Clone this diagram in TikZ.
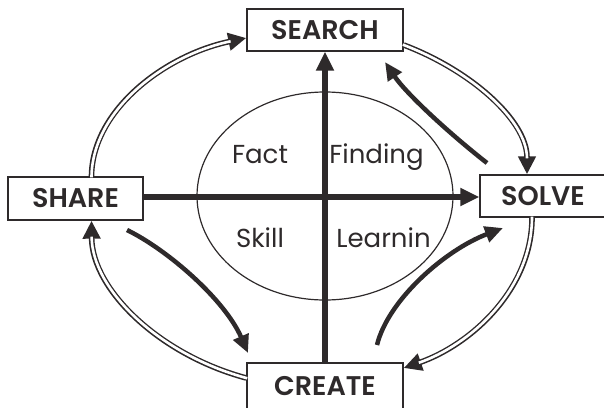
\documentclass[tikz,border=0pt]{standalone}
\usepackage{fontspec}
\setmainfont{Poppins}
\newfontfamily\boxfont{Poppins SemiBold}
\usetikzlibrary{arrows.meta,calc}
\definecolor{ink}{HTML}{2E2A2B}
\tikzset{
  stagebox/.style={draw=ink, line width=1.4pt, fill=white, inner sep=0pt, text=ink, font=\boxfont\fontsize{27}{27}\selectfont},
  quad/.style={text=ink, anchor=base, inner sep=0pt, font=\fontsize{26}{26}\selectfont},
  axis/.style={draw=ink, line width=6pt, -{Triangle[length=19pt,width=17pt]}},
  inner/.style={draw=ink, line width=4.5pt, -{Triangle[length=18pt,width=16pt]}},
  outerblack/.style={draw=ink, line width=5.6pt, -{Triangle[length=18pt,width=17pt]}},
  outerwhite/.style={draw=white, line width=2.6pt, shorten >=16pt, shorten <=-1pt},
}
\begin{document}
\begin{tikzpicture}[x=1pt,y=-1pt]
\useasboundingbox (0,0) rectangle (604,407);
% ellipse
\draw[ink, line width=1.2pt] (325,196) ellipse [x radius=128, y radius=104];
% boxes
\node[stagebox, minimum width=156pt, minimum height=42pt] (search) at (325,30) {SEARCH};
\node[stagebox, minimum width=126pt, minimum height=42pt] (solve) at (543,196) {SOLVE};
\node[stagebox, minimum width=135pt, minimum height=43pt] (share) at (75.5,198.5) {SHARE};
\node[stagebox, minimum width=156pt, minimum height=46pt] (create) at (325,386) {CREATE};
% quadrant texts
\node[quad] (fact) at (260,163) {Fact};
\node[quad] (finding) at (376.5,163) {Finding};
\node[quad] (skill) at (260,247) {Skill};
\node[quad] (learnin) at (383.5,247) {Learnin};
% axes
\draw[axis] (share.east |- 0,197) -- (solve.west |- 0,197);
\draw[axis] (create.north) -- (search.south);
% outer double arrows
\foreach \st in {outerblack,outerwhite}{
  \path[\st] ($(share.north)+(16,0)$) .. controls (92,110) and (165,55) .. ($(search.west)+(0,8)$);
  \path[\st] ($(search.east)+(0,15)$) .. controls (470,70) and (527,120) .. ($(solve.north)+(-16,0)$);
  \path[\st] ($(solve.south)+(-11,0)$) .. controls (532,290) and (470,345) .. ($(create.east)+(0,-18)$);
  \path[\st] ($(create.west)+(0,-8)$) .. controls (160,355) and (92,290) .. ($(share.south)+(16,0)$);
}
% inner arrows
\coordinate (a1) at (487,163); \coordinate (b1) at (385,62);
\coordinate (a2) at (127,230); \coordinate (b2) at (248,353);
\coordinate (a3) at (377,345); \coordinate (b3) at (503,228);
\path[inner] (a1) .. controls (445,130) and (405,92) .. (b1);
\path[inner] (a2) .. controls (168,250) and (225,300) .. (b2);
\path[inner] (a3) .. controls (388,300) and (445,250) .. (b3);
\end{tikzpicture}
\end{document}
